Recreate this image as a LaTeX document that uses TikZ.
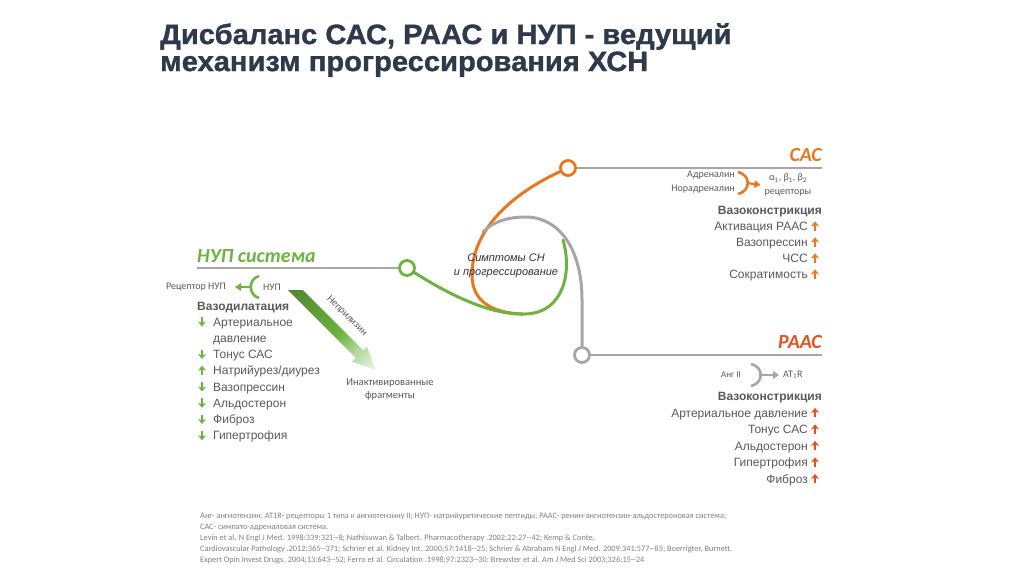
\documentclass[tikz,border=0pt]{standalone}
\usepackage{fontspec}
\setmainfont{Liberation Sans}
\newfontfamily\calibri{Carlito}
\newfontfamily\titlefont{Liberation Sans}[FakeBold=1.2, FakeStretch=1.04]
\usetikzlibrary{arrows.meta}

\definecolor{titleblue}{HTML}{2E3A4C}
\definecolor{nupgreen}{HTML}{6CB33F}
\definecolor{sasorange}{HTML}{E8781E}
\definecolor{raasred}{HTML}{E2521D}
\definecolor{linegray}{HTML}{A6A6A6}
\definecolor{textgray}{HTML}{595959}
\definecolor{notegray}{HTML}{808080}

\pgfdeclareverticalshading{neprishade}{100bp}{color(0bp)=(white); color(14bp)=(nupgreen!12);
  color(30bp)=(nupgreen!50); color(45bp)=(nupgreen); color(85bp)=(nupgreen!75!black);
  color(100bp)=(nupgreen!75!black)}

\tikzset{
  item/.style={font=\fontsize{12}{14}\selectfont, text=textgray, inner sep=0pt},
  itemhead/.style={item, font=\fontsize{12}{14}\selectfont\bfseries},
  small/.style={font=\calibri\fontsize{10}{14}\selectfont, text=textgray, inner sep=0pt},
  syshead/.style={font=\calibri\fontsize{20}{22}\selectfont\bfseries\itshape, text=#1, inner sep=0pt},
  dot/.style={circle, draw=#1, line width=2.8pt, fill=white, minimum size=15pt, inner sep=0pt},
  curve/.style={line width=3pt, draw=#1, line cap=round},
  rule/.style={line width=1.2pt, draw=linegray},
  bracket/.style={line width=2.6pt, draw=#1},
  pointer/.style={line width=2.2pt, draw=#1, -{Triangle[length=6pt, width=7.5pt]}},
  pics/trend/.style={code={
    \draw[line width=1.8pt, draw=#1, -{Stealth[length=5pt, width=8pt, inset=1.5pt]}] (0,4.6) -- (0,-4.8);
  }},
}

\begin{document}
\begin{tikzpicture}[x=1pt, y=-1pt]
  \useasboundingbox (0,0) rectangle (1024,574);

  % title
  \node[anchor=north west, align=left, inner sep=0pt, text=titleblue,
        font=\titlefont\fontsize{28}{27}\selectfont\bfseries] (title) at (160,23)
    {Дисбаланс САС, РААС и НУП - ведущий\\механизм прогрессирования ХСН};

  % system nodes
  \node[dot=sasorange] (sasdot) at (568,168) {};
  \node[dot=nupgreen] (nupdot) at (407,268) {};
  \node[dot=linegray] (raasdot) at (582,355) {};
  \coordinate (sasend) at (822,168);
  \coordinate (raasend) at (822,355);
  \coordinate (nupstart) at (197,268);
  \coordinate (loopend) at (523,314);
  \coordinate (greenend) at (563,240);
  \coordinate (graystart) at (483,232);

  \draw[rule] (sasdot) -- (sasend);
  \draw[rule] (raasdot) -- (raasend);
  \draw[rule] (nupstart) -- (nupdot);

  % loop of curves
  \draw[curve=sasorange] (sasdot) .. controls (520,190) and (472,225) .. (472,275)
    .. controls (472,300) and (490,313) .. (loopend);
  \draw[curve=nupgreen] (nupdot) .. controls (450,295) and (490,315) .. (525,314)
    .. controls (565,313) and (572,270) .. (greenend);
  \draw[curve=linegray] (graystart) .. controls (495,220) and (510,217) .. (527,217)
    .. controls (560,218) and (582,250) .. (582,300) -- (raasdot);

  \node[align=center, inner sep=0pt, text=black!80,
        font=\fontsize{11}{14.5}\selectfont\itshape] (sympt) at (506,266)
    {Симптомы СН\\и прогрессирование};

  % SAS
  \node[syshead=sasorange, anchor=base east] (sashead) at (822,161) {САС};
  \node[small, align=right, anchor=east] (sasin) at (735,182) {Адреналин\\Норадреналин};
  \node[small, align=center] (sasrec) at (788,185) {α\textsubscript{1}, β\textsubscript{1}, β\textsubscript{2}\\рецепторы};
  \coordinate (sasbr) at (747,183);
  \draw[bracket=sasorange] (738,172) .. controls (751,175) and (751,191) .. (738,194);
  \draw[pointer=sasorange] (sasbr) -- ([xshift=-4pt]sasrec.west);
  \node[itemhead, anchor=base east] (sasvaso) at (822,214.5) {Вазоконстрикция};
  \foreach \txt [count=\i] in {Активация РААС, Вазопрессин, ЧСС, Сократимость}
  {
    \node[item, anchor=base east] (sas\i) at (808,214.5+16*\i) {\txt};
    \pic at (815,210.2+16*\i) {trend=sasorange};
  }

  % RAAS
  \node[syshead=raasred, anchor=base east] (raashead) at (822,348) {РААС};
  \node[small, font=\calibri\fontsize{9}{11}\selectfont, anchor=east] (raasin) at (741,375) {Анг II};
  \node[small, anchor=west] (raasrec) at (783,375) {AT\textsubscript{1}R};
  \coordinate (raasbr) at (759,375);
  \draw[bracket=linegray] (751,364) .. controls (764,367) and (764,383) .. (751,386);
  \draw[pointer=linegray] (raasbr) -- ([xshift=-4pt]raasrec.west);
  \node[itemhead, anchor=base east] (raasvaso) at (822,400.5) {Вазоконстрикция};
  \foreach \txt [count=\i] in {Артериальное давление, Тонус САС, Альдостерон, Гипертрофия, Фиброз}
  {
    \node[item, anchor=base east] (raas\i) at (808,400.5+16.5*\i) {\txt};
    \pic at (815,396.2+16.5*\i) {trend=raasred};
  }

  % NUP
  \node[syshead=nupgreen, anchor=base west] (nuphead) at (197,262) {НУП система};
  \node[small, anchor=east] (nuprec) at (226,287) {Рецептор НУП};
  \node[small, anchor=west] (nupin) at (263,287) {НУП};
  \coordinate (nupbr) at (251,287);
  \draw[bracket=nupgreen] (259,276) .. controls (248,279) and (248,295) .. (259,298);
  \draw[pointer=nupgreen] (nupbr) -- ([xshift=9pt]nuprec.east);
  \node[itemhead, anchor=base west] (nupvaso) at (197,310) {Вазодилатация};
  \node[item, anchor=base west] (nup2) at (213,342.25) {давление};
  \foreach \row/\ang/\txt in {1/180/Артериальное, 3/180/Тонус САС, 4/0/{Натрийурез/диурез},
      5/180/Вазопрессин, 6/180/Альдостерон, 7/180/Фиброз, 8/180/Гипертрофия}
  {
    \node[item, anchor=base west] (nup\row) at (213,309.75+16.25*\row) {\txt};
    \pic[rotate=\ang] at (202,305.45+16.25*\row) {trend=nupgreen};
  }

  % neprilysin arrow
  \shade[shading=neprishade, shading angle=45]
    (288,290) -- (303,290) -- (363.25,350.25) -- (367,346.5) -- (375.5,370)
    -- (352,361.5) -- (355.75,357.75) -- cycle;
  \node[small, rotate=-45] (nepri) at (347,316) {Неприлизин};
  \node[small, font=\calibri\fontsize{10.5}{13}\selectfont, align=center] (frag) at (390,389)
    {Инактивированные\\фрагменты};

  % notes
  \node[anchor=north west, align=left, inner sep=0pt, text=notegray,
        font=\calibri\fontsize{8.3}{10.8}\selectfont] (notes) at (200,513)
    {Анг- ангиотензин; AT1R- рецепторы 1 типа к ангиотензину II; НУП- натрийуретические пептиды; РААС- ренин-ангиотензин-альдостероновая система;\\
     САС- симпато-адреналовая система.\\
     Levin et al. N Engl J Med. 1998:339:321--8; Nathisuwan \& Talbert. Pharmacotherapy .2002;22:27--42; Kemp \& Conte.\\
     Cardiovascular Pathology .2012:365--371; Schrier et al. Kidney Int. 2000;57:1418--25; Schrier \& Abraham N Engl J Med. 2009:341:577--85; Boerrigter, Burnett.\\
     Expert Opin Invest Drugs. 2004;13:643--52; Ferro et al. Circulation .1998;97:2323--30; Brewster et al. Am J Med Sci 2003;326:15--24};
\end{tikzpicture}
\end{document}
